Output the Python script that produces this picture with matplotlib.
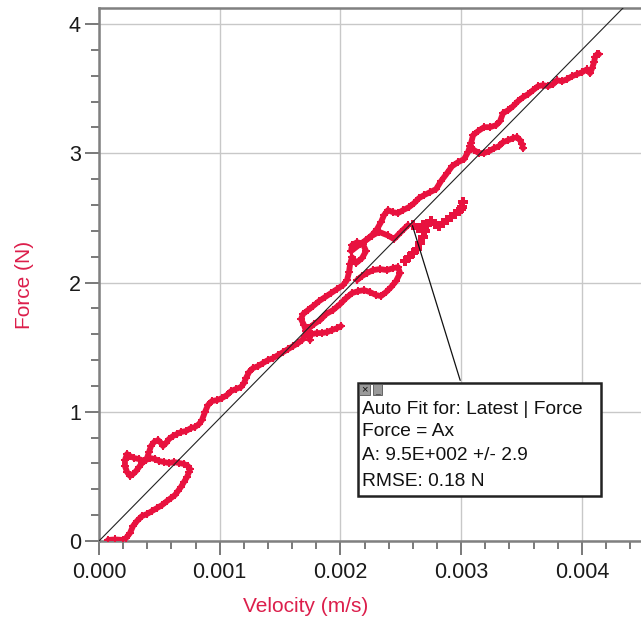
import matplotlib
matplotlib.use("Agg")
import matplotlib.pyplot as plt
from matplotlib.patches import Rectangle
from matplotlib.ticker import MultipleLocator, FormatStrFormatter

plt.rcParams['font.family'] = ['Liberation Sans', 'DejaVu Sans']

# ---------------- data (velocity in mm/s -> scaled to m/s below, force in N) ----------------
main_v = [0.0746, 0.1326, 0.199, 0.224, 0.257, 0.282, 0.315, 0.356, 0.398, 0.439,
          0.481, 0.522, 0.563, 0.597, 0.630, 0.655, 0.679, 0.704, 0.729, 0.746,
          0.754, 0.737, 0.704, 0.663, 0.621, 0.580, 0.539, 0.497, 0.464, 0.423,
          0.389, 0.356, 0.331, 0.307, 0.282, 0.257, 0.232, 0.215, 0.215, 0.232,
          0.257, 0.290, 0.331, 0.373, 0.398, 0.414, 0.431, 0.456, 0.489, 0.514,
          0.530, 0.555, 0.580, 0.613, 0.646, 0.679, 0.721, 0.762, 0.795, 0.829,
          0.853, 0.878, 0.903, 0.936, 0.978, 1.019, 1.060, 1.094, 1.135, 1.176,
          1.201, 1.218, 1.243, 1.276, 1.317, 1.359, 1.400, 1.442, 1.483, 1.524,
          1.566, 1.607, 1.649, 1.682, 1.707, 1.715, 1.698, 1.674, 1.690, 1.732,
          1.773, 1.823, 1.872, 1.922, 1.972, 2.022, 2.055, 2.071, 2.080, 2.096,
          2.129, 2.179, 2.212, 2.187, 2.138, 2.096, 2.088, 2.163, 2.212, 2.262,
          2.303, 2.336, 2.361, 2.394, 2.436, 2.477, 2.519, 2.568, 2.610, 2.651,
          2.693, 2.742, 2.792, 2.833, 2.883, 2.925, 2.974, 3.024, 3.057, 3.082,
          3.099, 3.140, 3.190, 3.239, 3.289, 3.322, 3.347, 3.389, 3.430, 3.471,
          3.513, 3.554, 3.596, 3.637, 3.679, 3.720, 3.761, 3.795, 3.836, 3.877,
          3.919, 3.960, 4.002, 4.043, 4.068, 4.085, 4.101, 4.109, 4.126, 4.142]
main_f = [0.008, 0.012, 0.008, 0.023, 0.062, 0.116, 0.155, 0.193, 0.209, 0.232,
          0.255, 0.278, 0.309, 0.333, 0.356, 0.387, 0.418, 0.456, 0.495, 0.534,
          0.557, 0.580, 0.596, 0.603, 0.611, 0.603, 0.611, 0.619, 0.634, 0.642,
          0.626, 0.603, 0.572, 0.541, 0.518, 0.503, 0.534, 0.580, 0.626, 0.673,
          0.657, 0.642, 0.634, 0.619, 0.642, 0.688, 0.735, 0.766, 0.781, 0.758,
          0.735, 0.758, 0.789, 0.812, 0.828, 0.843, 0.851, 0.874, 0.882, 0.905,
          0.936, 0.998, 1.052, 1.083, 1.090, 1.106, 1.129, 1.160, 1.176, 1.191,
          1.222, 1.261, 1.307, 1.338, 1.353, 1.377, 1.400, 1.415, 1.438, 1.462,
          1.485, 1.508, 1.531, 1.555, 1.585, 1.624, 1.671, 1.717, 1.756, 1.787,
          1.817, 1.856, 1.887, 1.918, 1.949, 1.980, 2.019, 2.080, 2.142, 2.196,
          2.150, 2.189, 2.243, 2.297, 2.312, 2.289, 2.243, 2.297, 2.328, 2.367,
          2.413, 2.467, 2.521, 2.560, 2.544, 2.537, 2.560, 2.583, 2.614, 2.653,
          2.676, 2.699, 2.722, 2.784, 2.846, 2.900, 2.931, 2.954, 3.009, 3.078,
          3.140, 3.171, 3.202, 3.202, 3.217, 3.248, 3.310, 3.333, 3.364, 3.403,
          3.434, 3.457, 3.488, 3.519, 3.527, 3.519, 3.534, 3.565, 3.557, 3.573,
          3.596, 3.612, 3.627, 3.650, 3.619, 3.658, 3.705, 3.743, 3.766, 3.766]

branch1_v = [1.748, 1.732, 1.765, 1.806, 1.848, 1.889, 1.930, 1.972, 2.005]
branch1_f = [1.555, 1.624, 1.601, 1.609, 1.609, 1.616, 1.632, 1.647, 1.663]

branch2_v = [1.740, 1.781, 1.831, 1.881, 1.939, 1.997, 2.046, 2.096, 2.146, 2.196,
             2.245, 2.295, 2.336, 2.378, 2.419, 2.461, 2.494, 2.477, 2.436, 2.386,
             2.328, 2.270, 2.220, 2.179, 2.138]
branch2_f = [1.647, 1.678, 1.709, 1.756, 1.787, 1.833, 1.879, 1.918, 1.933, 1.941,
             1.926, 1.903, 1.895, 1.926, 1.964, 2.011, 2.073, 2.119, 2.111, 2.096,
             2.104, 2.096, 2.073, 2.050, 2.019]

branch4_v = [2.212, 2.262, 2.319, 2.394, 2.444, 2.502, 2.560]
branch4_f = [2.328, 2.362, 2.392, 2.364, 2.336, 2.392, 2.444]

dots1_v = [2.535, 2.568, 2.601, 2.635, 2.660, 2.684, 2.701, 2.717, 2.751, 2.784,
           2.817, 2.850, 2.883, 2.916, 2.949, 2.983, 3.007, 3.016, 2.999]
dots1_f = [2.166, 2.196, 2.227, 2.258, 2.305, 2.351, 2.398, 2.444, 2.475, 2.452,
           2.436, 2.459, 2.483, 2.506, 2.529, 2.552, 2.583, 2.622, 2.568]

dots2_v = [2.601, 2.643, 2.684, 2.717]
dots2_f = [2.444, 2.421, 2.444, 2.452]

branch3_v = [3.074, 3.107, 3.148, 3.190, 3.231, 3.273, 3.314, 3.347, 3.389, 3.430,
             3.463, 3.488, 3.505, 3.513]
branch3_f = [3.055, 3.024, 3.001, 3.001, 3.016, 3.039, 3.055, 3.086, 3.101, 3.117,
             3.125, 3.101, 3.070, 3.039]

fit_A = 950.0          # Force = A x
fit_ends = [0.0, 0.0045]

x_ticks = [0.000, 0.001, 0.002, 0.003, 0.004]
y_ticks = [0, 1, 2, 3, 4]
fit_lines = ["Auto Fit for: Latest | Force", "Force = Ax",
             "A: 9.5E+002 +/- 2.9", "RMSE: 0.18 N"]

# ---------------- figure ----------------
W, H = 641, 624
fig = plt.figure(figsize=(W / 100, H / 100), dpi=100)
ax = fig.add_axes([99 / W, (H - 541) / H, (W - 99) / W, (541 - 8) / H])

red = '#E8123F'
lab_red = '#DC1E4B'

ax.set_xlim(0, 0.00449)
ax.set_ylim(0, 4.124)

ax.plot(fit_ends, [fit_A * v for v in fit_ends], color='#222222', lw=0.8, zorder=4)

def mv(lst):
    return [v * 1e-3 for v in lst]

for vs, fs in [(main_v, main_f), (branch1_v, branch1_f), (branch2_v, branch2_f),
               (branch3_v, branch3_f), (branch4_v, branch4_f)]:
    ax.plot(mv(vs), fs, color=red, lw=4.2, marker='P', ms=6, mew=0,
            solid_capstyle='round', solid_joinstyle='round', zorder=3)
for vs, fs in [(dots1_v, dots1_f), (dots2_v, dots2_f)]:
    ax.plot(mv(vs), fs, color=red, lw=0, marker='P', ms=6.5, mew=0, zorder=3)

ax.set_xticks(x_ticks)
ax.set_yticks(y_ticks)
ax.xaxis.set_major_formatter(FormatStrFormatter('%.3f'))
ax.yaxis.set_major_formatter(FormatStrFormatter('%d'))
ax.xaxis.set_minor_locator(MultipleLocator(0.0002))
ax.yaxis.set_minor_locator(MultipleLocator(0.2))
ax.grid(True, which='major', color='#c8c8c8', lw=1.0, zorder=0)
ax.set_axisbelow(True)

ax.tick_params(which='major', direction='out', length=10, width=1.1,
               color='#555555', labelsize=15.5, labelcolor='#1a1a1a', pad=3)
ax.tick_params(which='minor', direction='out', length=5.5, width=1.1, color='#555555')
ax.tick_params(axis='x', which='major', pad=5)

for s in ['left', 'bottom', 'top']:
    ax.spines[s].set_color('#808080')
    ax.spines[s].set_linewidth(1.8)
ax.spines['right'].set_visible(False)

fig.text(306 / W, 1 - 606 / H, 'Velocity (m/s)', color=lab_red, fontsize=15,
         ha='center', va='center')
fig.text(25 / W, 1 - 285 / H, 'Force (N)', color=lab_red, fontsize=15,
         ha='center', va='center', rotation=90)

# ---------------- fit annotation box ----------------
bx0, bx1, by0, by1 = 358, 601, 383, 496
lead_v = 0.00259
ax.annotate('', xy=(lead_v, fit_A * lead_v), xycoords='data',
            xytext=(461 / W, 1 - by0 / H), textcoords='figure fraction',
            arrowprops=dict(arrowstyle='-', color='#111111', lw=0.9), zorder=5)
fig.patches.append(Rectangle((bx0 / W, 1 - by1 / H), (bx1 - bx0) / W, (by1 - by0) / H,
                             transform=fig.transFigure, facecolor='white',
                             edgecolor='#222222', lw=1.8, zorder=6))
fig.patches.append(Rectangle((359 / W, 1 - 395 / H), 11 / W, 11 / H,
                             transform=fig.transFigure, facecolor='#9a9a9a',
                             edgecolor='#555555', lw=0.6, zorder=7))
fig.patches.append(Rectangle((373 / W, 1 - 395 / H), 9 / W, 11 / H,
                             transform=fig.transFigure, facecolor='#9a9a9a',
                             edgecolor='#555555', lw=0.6, zorder=7))
fig.text(364.5 / W, 1 - 389.5 / H, '×', fontsize=8, ha='center', va='center',
         color='#111111', zorder=8)
fig.text(377.5 / W, 1 - 392 / H, '_', fontsize=6, ha='center', va='center',
         color='#111111', zorder=8)
for line, yy in zip(fit_lines, [409, 431, 456, 482]):
    fig.text(362 / W, 1 - yy / H, line, fontsize=13.8, ha='left', va='center',
             color='#111111', zorder=8)

fig.savefig('out.png', dpi=100)
